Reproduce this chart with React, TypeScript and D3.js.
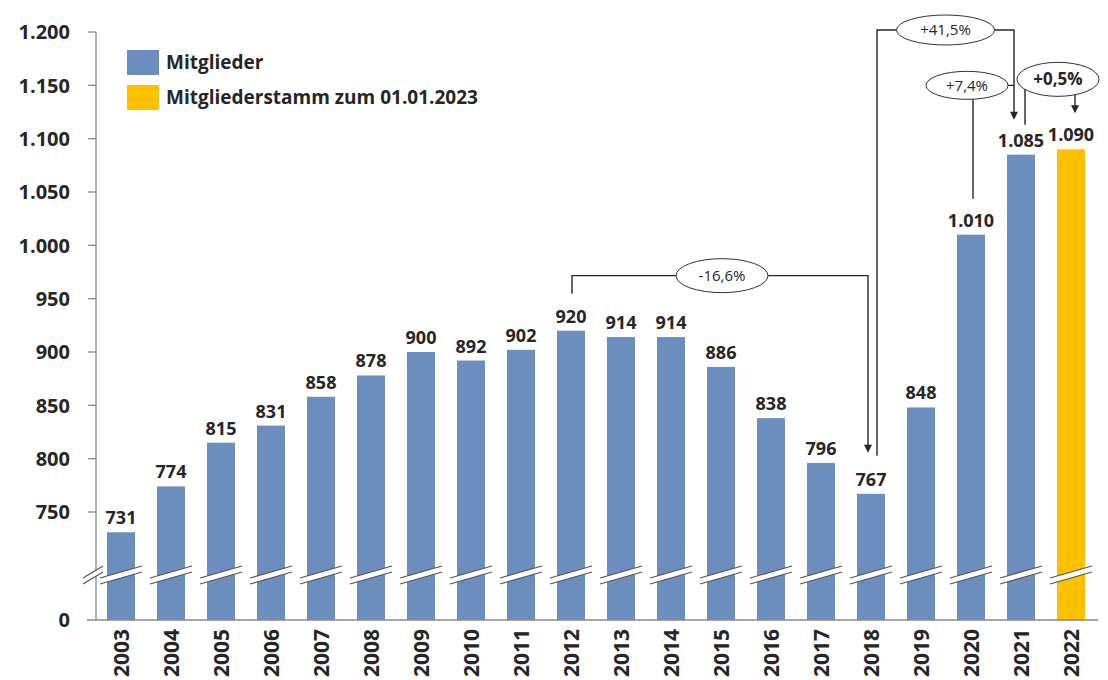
import * as d3 from "d3";

const years = ["2003", "2004", "2005", "2006", "2007", "2008", "2009", "2010", "2011", "2012",
  "2013", "2014", "2015", "2016", "2017", "2018", "2019", "2020", "2021", "2022"];
const members = [731, 774, 815, 831, 858, 878, 900, 892, 902, 920,
  914, 914, 886, 838, 796, 767, 848, 1010, 1085, 1090];
const yTicks = [0, 750, 800, 850, 900, 950, 1000, 1050, 1100, 1150, 1200];
const legendItems = ["Mitglieder", "Mitgliederstamm zum 01.01.2023"];

const BLUE = "#6C8EBF";
const YELLOW = "#FFC000";
const INK = "#262626";
const FONT = "'Open Sans', 'Liberation Sans', sans-serif";

const width = 1108;
const height = 680;

const fmt = (v: number) => v.toLocaleString("de-DE");

export default function App() {
  const x = d3.scaleBand<string>().domain(years).range([96, 1096]).paddingInner(0.44).paddingOuter(0.22);
  // broken axis: 0 .. 700 squeezed, 700 .. 1200 linear
  const y = d3.scaleLinear().domain([0, 700, 1200]).range([620, 565.33, 32]);
  const bw = x.bandwidth();
  const cx = (yr: string) => (x(yr) ?? 0) + bw / 2;
  const top = (i: number) => y(members[i]);
  const idx = (yr: string) => years.indexOf(yr);
  const breakY = y(0) - 44;

  const breakMark = (c: number, hw: number, key: string) => (
    <g key={key}>
      <polygon
        points={`${c - hw},${breakY + 2} ${c + hw},${breakY - 10} ${c + hw},${breakY - 4} ${c - hw},${breakY + 8}`}
        fill="#fff"
      />
      <line x1={c - hw} y1={breakY + 2} x2={c + hw} y2={breakY - 10} stroke="#555" strokeWidth={1.2} />
      <line x1={c - hw} y1={breakY + 8} x2={c + hw} y2={breakY - 4} stroke="#555" strokeWidth={1.2} />
    </g>
  );

  const arrowHead = (ax: number, ay: number) => (
    <polygon points={`${ax - 4},${ay - 8} ${ax + 4},${ay - 8} ${ax},${ay}`} fill={INK} />
  );

  const bubble = (ex: number, ey: number, rx: number, ry: number, label: string, bold = false) => (
    <g>
      <ellipse cx={ex} cy={ey} rx={rx} ry={ry} fill="#fff" stroke="#333" strokeWidth={1} />
      <text x={ex} y={ey} dy="0.35em" textAnchor="middle" fontFamily={FONT}
        fontSize={bold ? 17 : 15} fontWeight={bold ? 700 : 400} fill={INK}>{label}</text>
    </g>
  );

  // annotation anchor points, derived from the scales
  const i12 = idx("2012"), i18 = idx("2018"), i20 = idx("2020"), i21 = idx("2021"), i22 = idx("2022");
  const a1 = { x0: cx("2012") + 1, y0: top(i12) - 37, yh: top(i12) - 55, x1: cx("2018") - 3, y1: top(i18) - 41 };
  const a2 = { x0: cx("2018") + 6, y0: top(i18) - 38, yh: y(1200) - 2, x1: cx("2021") - 7, y1: top(i21) - 35 };
  const a3 = { x0: cx("2020") + 2, y0: top(i20) - 36, yh: y(1150) };
  const a4 = { x0: cx("2021") + 4, y0: top(i21) - 30, yh: y(1150), x1: cx("2022") + 4, y1: top(i22) - 36 };

  return (
    <svg width={width} height={height} style={{ position: "absolute", left: 0, top: 0, background: "#fff" }}>
      {/* bars */}
      {years.map((yr, i) => (
        <rect key={yr} x={x(yr)} y={top(i)} width={bw} height={y(0) - top(i)}
          fill={i === years.length - 1 ? YELLOW : BLUE} />
      ))}

      {/* y axis */}
      <line x1={96} x2={96} y1={y(1200)} y2={y(0)} stroke="#888" strokeWidth={1.3} />
      {yTicks.map((t) => (
        <g key={t} transform={`translate(0,${y(t)})`}>
          {t > 0 && <line x1={88} x2={96} stroke="#888" strokeWidth={1.3} />}
          <text x={70} dy="0.36em" textAnchor="end" fontFamily={FONT} fontWeight={700}
            fontSize={20} fill={INK}>{fmt(t)}</text>
        </g>
      ))}
      <line x1={87} x2={1098} y1={y(0)} y2={y(0)} stroke="#888" strokeWidth={1.3} />

      {/* break marks */}
      {breakMark(93, 10, "axis")}
      {years.map((yr) => breakMark(cx(yr), 21, "b" + yr))}

      {/* value labels */}
      {years.map((yr, i) => (
        <text key={yr} x={cx(yr)} y={top(i) - 8} textAnchor="middle" fontFamily={FONT}
          fontWeight={700} fontSize={18} fill={INK}>{fmt(members[i])}</text>
      ))}

      {/* year labels */}
      {years.map((yr) => (
        <text key={yr} transform={`translate(${cx(yr)},${y(0) + 9}) rotate(-90)`} dy="0.36em"
          textAnchor="end" fontFamily={FONT} fontWeight={700} fontSize={21} fill={INK}>{yr}</text>
      ))}

      {/* legend */}
      {legendItems.map((item, i) => (
        <g key={item} transform={`translate(127,${50 + i * 35})`}>
          <rect width={32} height={25} fill={i === 0 ? BLUE : YELLOW} />
          <text x={39} y={12.5} dy="0.36em" fontFamily={FONT} fontWeight={700} fontSize={19} fill={INK}>{item}</text>
        </g>
      ))}

      {/* -16,6 % bracket 2012 -> 2018 */}
      <path d={`M${a1.x0},${a1.y0}V${a1.yh}H${a1.x1}V${a1.y1 - 7}`} fill="none" stroke={INK} strokeWidth={1.4} />
      {arrowHead(a1.x1, a1.y1)}
      {bubble((a1.x0 + a1.x1) / 2 + 2, a1.yh, 46, 17, "-16,6%")}

      {/* +41,5 % bracket 2018 -> 2021 */}
      <path d={`M${a2.x0},${a2.y0}V${a2.yh}H${a2.x1}V${a2.y1 - 7}`} fill="none" stroke={INK} strokeWidth={1.4} />
      {arrowHead(a2.x1, a2.y1)}
      {bubble((a2.x0 + a2.x1) / 2, a2.yh, 49, 15, "+41,5%")}

      {/* +7,4 % bracket 2020 -> 2021 */}
      <path d={`M${a3.x0},${a3.y0}V${a3.yh}H${a2.x1}`} fill="none" stroke={INK} strokeWidth={1.4} />
      {bubble(a3.x0 - 6, a3.yh, 41, 14, "+7,4%")}

      {/* +0,5 % bracket 2021 -> 2022 */}
      <path d={`M${a4.x0},${a4.y0}V${a4.yh}`} fill="none" stroke={INK} strokeWidth={1.4} />
      <path d={`M${a4.x1},${a4.yh}V${a4.y1 - 7}`} fill="none" stroke={INK} strokeWidth={1.4} />
      {arrowHead(a4.x1, a4.y1)}
      {bubble((a4.x0 + a4.x1) / 2 + 8, a4.yh - 6, 41, 17, "+0,5%", true)}
    </svg>
  );
}
